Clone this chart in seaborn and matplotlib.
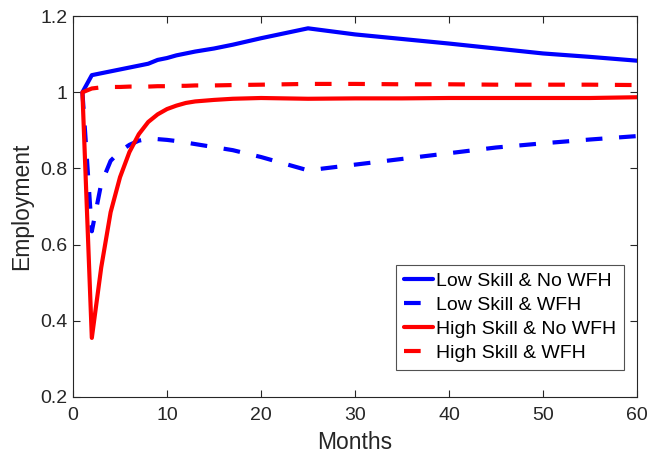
import matplotlib
matplotlib.use("Agg")
import matplotlib.pyplot as plt
import seaborn as sns
import pandas as pd

months = [1, 2, 3, 4, 5, 6, 7, 8, 9, 10, 11, 12, 13, 15, 17, 20, 25, 30, 35, 40, 45, 50, 55, 60]
low_nowfh = [1.0, 1.045, 1.05, 1.055, 1.06, 1.065, 1.07, 1.075, 1.085, 1.09, 1.097, 1.102, 1.107,
             1.115, 1.125, 1.142, 1.168, 1.152, 1.14, 1.128, 1.115, 1.102, 1.093, 1.083]
low_wfh = [1.0, 0.635, 0.76, 0.82, 0.845, 0.862, 0.873, 0.878, 0.877, 0.875, 0.872, 0.868, 0.864,
           0.856, 0.848, 0.83, 0.795, 0.81, 0.825, 0.84, 0.855, 0.866, 0.876, 0.885]
high_nowfh = [1.0, 0.355, 0.54, 0.685, 0.777, 0.843, 0.89, 0.922, 0.942, 0.956, 0.965, 0.972, 0.976,
              0.98, 0.983, 0.985, 0.983, 0.984, 0.984, 0.985, 0.985, 0.985, 0.985, 0.987]
high_wfh = [1.0, 1.01, 1.013, 1.014, 1.014, 1.015, 1.015, 1.015, 1.016, 1.016, 1.017, 1.017, 1.018,
            1.018, 1.019, 1.02, 1.022, 1.022, 1.021, 1.021, 1.02, 1.02, 1.02, 1.019]
labels = ["Low Skill & No WFH", "Low Skill & WFH", "High Skill & No WFH", "High Skill & WFH"]
colors = ["#0000ff", "#0000ff", "#ff0000", "#ff0000"]

series = [low_nowfh, low_wfh, high_nowfh, high_wfh]
df = pd.concat([pd.DataFrame({"Months": months, "Employment": s, "Series": lab})
                for s, lab in zip(series, labels)], ignore_index=True)

sns.set_theme(style="white")
plt.rcParams["font.family"] = ["Liberation Sans", "DejaVu Sans"]

fig = plt.figure(figsize=(6.52, 4.61), dpi=100)
ax = fig.add_axes([0.112, 0.139, 0.865, 0.826])

sns.lineplot(data=df, x="Months", y="Employment", hue="Series", style="Series",
             hue_order=labels, style_order=labels,
             palette=dict(zip(labels, colors)),
             dashes={labels[0]: "", labels[1]: (4, 4), labels[2]: "", labels[3]: (4, 4)},
             linewidth=3, ax=ax, legend=True)

ax.set_xlim(0, 60)
ax.set_ylim(0.2, 1.2)
ax.set_xticks([0, 10, 20, 30, 40, 50, 60])
ax.set_yticks([0.2, 0.4, 0.6, 0.8, 1.0, 1.2])
ax.set_yticklabels(["0.2", "0.4", "0.6", "0.8", "1", "1.2"])
edge = "#262626"
for sp in ax.spines.values():
    sp.set_color(edge)
    sp.set_linewidth(0.8)
    sp.set_visible(True)
ax.tick_params(direction="in", length=5, width=0.8, colors=edge, labelsize=14,
               top=True, right=True, bottom=True, left=True, pad=4)
ax.tick_params(axis="x", pad=7)
ax.set_xlabel("Months", fontsize=16.5, color=edge, labelpad=5)
ax.set_ylabel("Employment", fontsize=16.5, color=edge, labelpad=5)

leg = ax.legend(loc="lower right", bbox_to_anchor=(0.977, 0.071), fontsize=14,
                frameon=True, fancybox=False, edgecolor=edge, handlelength=1.5,
                handletextpad=0.15, borderpad=0.4, labelspacing=0.33, borderaxespad=0)
leg.get_frame().set_linewidth(0.8)
for t in leg.get_texts():
    t.set_color("black")

fig.savefig("out.png", dpi=100)
